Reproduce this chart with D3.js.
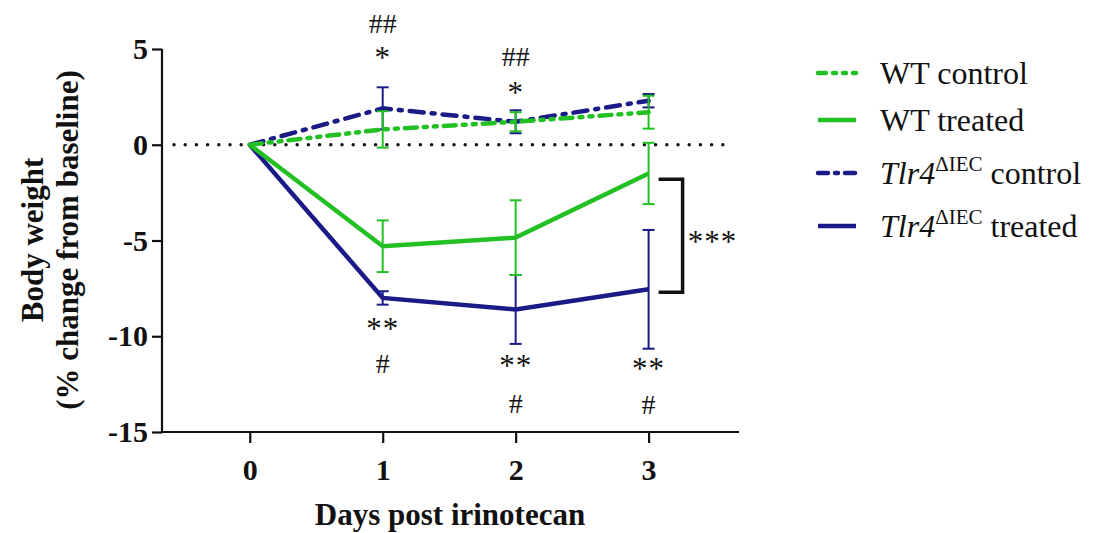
<!DOCTYPE html>
<html>
<head>
<meta charset="utf-8">
<script src="https://cdn.jsdelivr.net/npm/d3@7"></script>
<style>
  body { margin: 0; background: #fff; }
</style>
</head>
<body>
<div id="chart"></div>
<script>
// values (mean and error per day)
const days = [0, 1, 2, 3];
const yTicks = [5, 0, -5, -10, -15];

const wtControl = [0, 0.8, 1.2, 1.7];
const wtControlErr = [0, 0.95, 0.5, 0.86];
const tlrControl = [0, 1.9, 1.2, 2.3];
const tlrControlErr = [0, 1.1, 0.6, 0.35];
const wtTreated = [0, -5.3, -4.85, -1.5];
const wtTreatedErr = [0, 1.35, 1.95, 1.6];
const tlrTreated = [0, -8.0, -8.6, -7.55];
const tlrTreatedErr = [0, 0.35, 1.8, 3.1];

const seriesNames = ["WT control", "WT treated", "Tlr4 control", "Tlr4 treated"];

// significance marks: day, label, value where it sits
const marks = [
  { day: 1, text: "##", v: 6.37 },
  { day: 1, text: "*", v: 4.8 },
  { day: 2, text: "##", v: 4.65 },
  { day: 2, text: "*", v: 2.98 },
  { day: 1, text: "**", v: -9.35 },
  { day: 1, text: "#", v: -11.38 },
  { day: 2, text: "**", v: -11.28 },
  { day: 2, text: "#", v: -13.47 },
  { day: 3, text: "**", v: -11.44 },
  { day: 3, text: "#", v: -13.52 }
];

const green = "#22c022";
const navy = "#1b1b88";
const FONT = "Liberation Serif";

const width = 1093;
const height = 533;

const svg = d3
  .select("#chart")
  .append("svg")
  .attr("width", width)
  .attr("height", height)
  .attr("font-family", FONT);

const x = d3.scaleLinear().domain([-0.66, 3.68]).range([162, 739]);
const y = d3.scaleLinear().domain([-15, 5]).range([432, 49]);

const fmt = d => String(d); // plain hyphen minus, as in the figure

// zero reference line
svg
  .append("line")
  .attr("x1", x(-0.66) + 12)
  .attr("x2", x(3.62))
  .attr("y1", y(0))
  .attr("y2", y(0))
  .attr("stroke", "#111")
  .attr("stroke-width", 3.5)
  .attr("stroke-linecap", "round")
  .attr("stroke-dasharray", "0,11.2");

// axes
const yAxis = svg
  .append("g")
  .attr("transform", `translate(${x(-0.66)},0)`)
  .call(d3.axisLeft(y).tickValues(yTicks).tickSize(10).tickPadding(4).tickFormat(fmt));

const xAxis = svg
  .append("g")
  .attr("transform", `translate(0,${y(-15)})`)
  .call(d3.axisBottom(x).tickValues(days).tickSize(11).tickPadding(11).tickFormat(fmt));

[xAxis, yAxis].forEach(g => {
  g.attr("font-family", FONT).attr("font-size", 30).attr("font-weight", "bold");
  g.select(".domain").attr("stroke", "#111").attr("stroke-width", 2.2);
  g.selectAll(".tick line").attr("stroke", "#111").attr("stroke-width", 2.2);
  g.selectAll(".tick text").attr("fill", "#111");
});
yAxis.select(".domain").attr("d", `M0,${y(5)}V${y(-15)}`);
xAxis.select(".domain").attr("d", `M${x(-0.66)},0H${x(3.68)}`);
xAxis.selectAll(".tick text").attr("dy", "0.85em");

// axis titles
svg
  .append("text")
  .attr("x", 450)
  .attr("y", 525)
  .attr("text-anchor", "middle")
  .attr("font-family", FONT)
  .attr("font-size", 31)
  .attr("font-weight", "bold")
  .attr("fill", "#111")
  .text("Days post irinotecan");

const yTitle = svg
  .append("text")
  .attr("transform", "translate(0,240) rotate(-90)")
  .attr("text-anchor", "middle")
  .attr("font-family", FONT)
  .attr("font-size", 31)
  .attr("font-weight", "bold")
  .attr("fill", "#111");
yTitle.append("tspan").attr("x", 0).attr("y", 43).text("Body weight");
yTitle.append("tspan").attr("x", 0).attr("y", 78).text("(% change from baseline)");

// series
const series = [
  { name: seriesNames[0], vals: wtControl, err: wtControlErr, color: green, dash: "12,7,3,7,3,7", width: 4.5 },
  { name: seriesNames[1], vals: wtTreated, err: wtTreatedErr, color: green, dash: null, width: 4.5 },
  { name: seriesNames[2], vals: tlrControl, err: tlrControlErr, color: navy, dash: "14,8,3,8", width: 4.5 },
  { name: seriesNames[3], vals: tlrTreated, err: tlrTreatedErr, color: navy, dash: null, width: 4.5 }
];

const line = d3
  .line()
  .x((d, i) => x(days[i]))
  .y(d => y(d));

const drawOrder = [3, 1, 2, 0];

drawOrder.forEach(k => {
  const s = series[k];
  const g = svg.append("g");
  g.append("path")
    .attr("d", line(s.vals))
    .attr("fill", "none")
    .attr("stroke", s.color)
    .attr("stroke-width", s.width)
    .attr("stroke-dasharray", s.dash)
    .attr("stroke-linecap", s.dash ? "round" : "butt");

  const bars = days
    .map((d, i) => ({ d, v: s.vals[i], e: s.err[i] }))
    .filter(b => b.e > 0);

  g.selectAll(".eb")
    .data(bars)
    .enter()
    .append("line")
    .attr("x1", b => x(b.d))
    .attr("x2", b => x(b.d))
    .attr("y1", b => y(b.v + b.e))
    .attr("y2", b => y(b.v - b.e))
    .attr("stroke", s.color)
    .attr("stroke-width", 2);

  [1, -1].forEach(sign => {
    g.selectAll(".cap" + sign)
      .data(bars)
      .enter()
      .append("line")
      .attr("x1", b => x(b.d) - 6)
      .attr("x2", b => x(b.d) + 6)
      .attr("y1", b => y(b.v + sign * b.e))
      .attr("y2", b => y(b.v + sign * b.e))
      .attr("stroke", s.color)
      .attr("stroke-width", 2);
  });
});

// significance marks
svg
  .selectAll(".mark")
  .data(marks)
  .enter()
  .append("text")
  .attr("x", d => x(d.day))
  .attr("y", d => y(d.v) + (d.text.indexOf("*") >= 0 ? 15 : 10))
  .attr("text-anchor", "middle")
  .attr("font-family", FONT)
  .attr("font-size", d => (d.text.indexOf("*") >= 0 ? 31 : 28))
  .attr("letter-spacing", d => (d.text.indexOf("*") >= 0 ? 1 : 0))
  .attr("fill", "#111")
  .text(d => d.text);

// bracket between treated groups at day 3
const bx0 = x(3) + 10;
const bx1 = x(3) + 34;
const by0 = y(wtTreated[3] - 0.3);
const by1 = y(tlrTreated[3] - 0.15);
svg
  .append("path")
  .attr("d", `M${bx0},${by0}H${bx1}V${by1}H${bx0}`)
  .attr("fill", "none")
  .attr("stroke", "#111")
  .attr("stroke-width", 3.5);
svg
  .append("text")
  .attr("x", bx1 + 30)
  .attr("y", (by0 + by1) / 2 + 16)
  .attr("text-anchor", "middle")
  .attr("font-family", FONT)
  .attr("font-size", 31)
  .attr("letter-spacing", 1)
  .attr("fill", "#111")
  .text("***");

// legend
const legend = svg.append("g").attr("transform", "translate(818,73)");
const legendRows = legend
  .selectAll(".row")
  .data(series)
  .enter()
  .append("g")
  .attr("transform", (d, i) => `translate(0,${[0, 47, 100, 153][i]})`);

legendRows
  .append("line")
  .attr("x1", 0)
  .attr("x2", 38)
  .attr("stroke", d => d.color)
  .attr("stroke-width", 4.5)
  .attr("stroke-dasharray", (d, i) => (i === 0 ? "8,7,3,7,3,7" : i === 2 ? "10,7,3,7" : null))
  .attr("stroke-linecap", d => (d.dash ? "round" : "butt"));

legendRows.each(function(d, i) {
  const t = d3
    .select(this)
    .append("text")
    .attr("x", 62)
    .attr("y", 11)
    .attr("font-family", FONT)
    .attr("font-size", 32)
    .attr("fill", "#111");
  if (i < 2) {
    t.text(d.name);
  } else {
    t.append("tspan").attr("font-style", "italic").text("Tlr4");
    t.append("tspan").attr("dy", -13).attr("font-size", 21).text("\u0394IEC");
    t.append("tspan").attr("dy", 13).text(" " + d.name.split(" ")[1]);
  }
});
</script>
</body>
</html>
